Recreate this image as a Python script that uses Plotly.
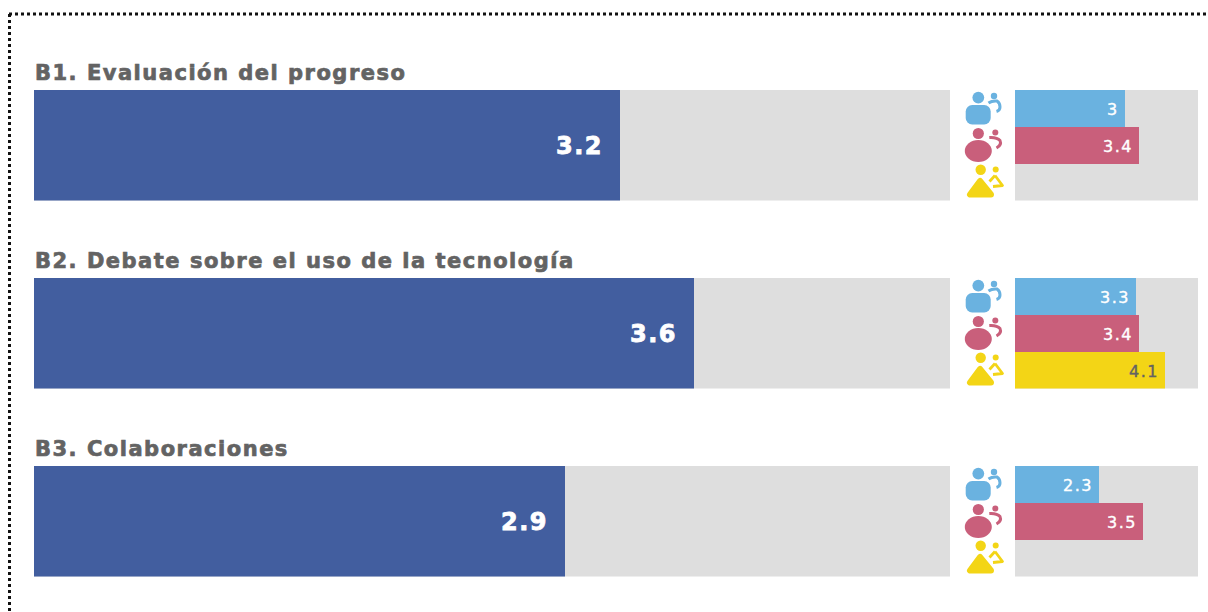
import base64
import plotly.graph_objects as go

# ---- data ----
SCALE_MAX = 5
section_titles = ["B1. Evaluación del progreso",
                  "B2. Debate sobre el uso de la tecnología",
                  "B3. Colaboraciones"]
overall_values = [3.2, 3.6, 2.9]
group_names = ["Grupo 1", "Grupo 2", "Grupo 3"]
group1_values = [3, 3.3, 2.3]
group2_values = [3.4, 3.4, 3.5]
group3_values = [None, 4.1, None]

# ---- style ----
W, H = 1208, 612
TOPS = [90, 278, 466]
BAR_H = 110.5
GREY = "#dedede"
BLUE = "#425e9f"
GROUP_COLORS = ["#6ab2e0", "#c95f7b", "#f3d516"]
TEXT_GREY = "#636363"
FONT = "DejaVu Sans"
L_DOM = [34 / W, 950 / W]
R_DOM = [1015 / W, 1198 / W]

fig = go.Figure()
layout_axes = {}
annotations = []
images = []


def spaced(text, px, stroke=None, sw=0):
    extra = f";stroke:{stroke};stroke-width:{sw}px" if stroke else ""
    return f'<span style="letter-spacing:{px}px{extra}">{text}</span>'


def svg_uri(body):
    svg = f'<svg xmlns="http://www.w3.org/2000/svg" width="42" height="37" viewBox="0 0 42 37">{body}</svg>'
    return "data:image/svg+xml;base64," + base64.b64encode(svg.encode()).decode()


ICONS = [
    '<circle cx="14.3" cy="7.6" r="5.9" fill="{c}"/><rect x="1.7" y="15" width="25" height="19.5" rx="6.5" fill="{c}"/>'
    '<circle cx="30" cy="6" r="3.2" fill="{c}"/>'
    '<path d="M24.5 13 Q28 10.5 33 11 Q36 13 36 17 Q36 20.5 32.5 21.5" fill="none" stroke="{c}" stroke-width="3"/>',
    '<circle cx="14.3" cy="6.5" r="5.6" fill="{c}"/><ellipse cx="14.3" cy="24" rx="13.5" ry="10.9" fill="{c}"/>'
    '<circle cx="31.3" cy="5.5" r="3" fill="{c}"/>'
    '<path d="M25.3 10.5 Q33 10 36 13.5 Q38 18 32.5 21" fill="none" stroke="{c}" stroke-width="3"/>',
    '<circle cx="16.7" cy="5.8" r="5.2" fill="{c}"/>'
    '<path d="M16 17 L6 30.5 L27 30.5 Z" fill="{c}" stroke="{c}" stroke-width="6" stroke-linejoin="round"/>'
    '<circle cx="31.7" cy="5.5" r="3" fill="{c}"/>'
    '<path d="M31 11.5 L25.5 17.5 M31 11.5 L38.5 21.5 L29 22.5" fill="none" stroke="{c}" stroke-width="2.8" stroke-linejoin="round"/>',
]

for i, title in enumerate(section_titles):
    top = TOPS[i]
    y_dom = [1 - (top + BAR_H) / H, 1 - top / H]
    lx, ly, rx, ry = f"x{2*i+1}", f"y{2*i+1}", f"x{2*i+2}", f"y{2*i+2}"
    for ax, dom in ((lx, L_DOM), (rx, R_DOM)):
        layout_axes[ax.replace("x", "xaxis")] = dict(
            domain=dom, range=[0, SCALE_MAX], visible=False, anchor=ax.replace("x", "y"), fixedrange=True)
    layout_axes[ly.replace("y", "yaxis")] = dict(
        domain=y_dom, visible=False, anchor=lx, type="category", fixedrange=True)
    layout_axes[ry.replace("y", "yaxis")] = dict(
        domain=y_dom, visible=False, anchor=rx, type="category",
        categoryorder="array", categoryarray=group_names[::-1], fixedrange=True)

    fig.add_bar(x=[SCALE_MAX], y=[title], orientation="h", marker=dict(color=GREY, line_width=0),
                xaxis=lx, yaxis=ly, width=1, showlegend=False, hoverinfo="skip")
    fig.add_bar(x=[overall_values[i]], y=[title], orientation="h", marker=dict(color=BLUE, line_width=0),
                xaxis=lx, yaxis=ly, width=1, showlegend=False)

    fig.add_bar(x=[SCALE_MAX] * 3, y=group_names, orientation="h", marker=dict(color=GREY, line_width=0),
                xaxis=rx, yaxis=ry, width=1, showlegend=False, hoverinfo="skip")
    vals = [group1_values[i], group2_values[i], group3_values[i]]
    fig.add_bar(x=vals, y=group_names, orientation="h", marker=dict(color=GROUP_COLORS, line_width=0),
                xaxis=rx, yaxis=ry, width=1, showlegend=False)

    annotations.append(dict(text=spaced(title, 1.5, TEXT_GREY, 0.7), x=32.5 / W, y=1 - (top - 17) / H,
                            xref="paper", yref="paper",
                            xanchor="left", yanchor="middle", showarrow=False,
                            font=dict(family=FONT, size=21, weight=700, color=TEXT_GREY)))
    annotations.append(dict(text=spaced(overall_values[i], 1.5, "white", 0.8), x=overall_values[i], y=title,
                            xref=lx, yref=ly,
                            xanchor="right", yanchor="middle", xshift=-15, yshift=-1, showarrow=False,
                            font=dict(family=FONT, size=24, weight=700, color="white")))
    for name, v, col in zip(group_names, vals, ["white", "white", TEXT_GREY]):
        if v is not None:
            annotations.append(dict(text=spaced(v, 1.5, col, 0.4), x=v, y=name, xref=rx, yref=ry,
                                    xanchor="right", yanchor="middle", xshift=-4, yshift=-1, showarrow=False,
                                    font=dict(family=FONT, size=16, color=col)))
    for k, (icon, col) in enumerate(zip(ICONS, GROUP_COLORS)):
        images.append(dict(source=svg_uri(icon.replace("{c}", col)), xref="paper", yref="paper",
                           x=964 / W, y=1 - (top + [0, 37, 74][k]) / H,
                           sizex=42 / W, sizey=37 / H, xanchor="left", yanchor="top",
                           sizing="stretch", layer="above"))

shapes = [
    dict(type="line", xref="paper", yref="paper", x0=9 / W, x1=1, y0=1 - 14 / H, y1=1 - 14 / H,
         line=dict(color="#111111", width=3, dash="3px,3px")),
    dict(type="line", xref="paper", yref="paper", x0=9.5 / W, x1=9.5 / W, y0=1 - 14 / H, y1=0,
         line=dict(color="#111111", width=3, dash="3px,3px")),
]

fig.update_layout(
    width=W, height=H, autosize=False,
    margin=dict(l=0, r=0, t=0, b=0),
    barmode="overlay", bargap=0,
    paper_bgcolor="white", plot_bgcolor="white",
    showlegend=False,
    annotations=annotations, images=images, shapes=shapes,
    **layout_axes,
)
fig.write_html("out.html", config={"displayModeBar": False},
               post_script="document.body.style.margin='0';document.body.style.overflow='hidden';")
